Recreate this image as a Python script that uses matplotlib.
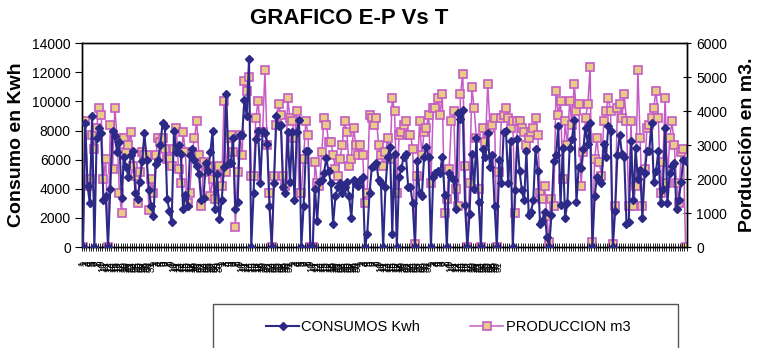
import numpy as np
import matplotlib
matplotlib.use("Agg")
import matplotlib.pyplot as plt
from matplotlib.patches import Rectangle
from matplotlib.lines import Line2D

plt.rcParams['font.family'] = ['Liberation Sans', 'DejaVu Sans']

# dias con etiqueta, el resto de la serie queda sin etiqueta
dias_mes = [31, 30, 31, 30, 31, 31]

consumos_kwh = [
    0, 8500, 4200, 3000, 9000, 0, 7500, 8200, 7800, 3200,
    3500, 0, 4000, 8000, 7600, 6500, 7200, 3400, 6200, 5500,
    4800, 6300, 6600, 3700, 3300, 4500, 5900, 7800, 6000, 3900,
    2800, 2100, 5700, 6000, 7000, 8500, 8300, 3300, 2500, 1700,
    8000, 6500, 7000, 6400, 2600, 3600, 2800, 6300, 6700, 6000,
    5600, 5000, 3200, 3400, 5800, 5200, 6500, 8000, 2600, 5000,
    1900, 3200, 5500, 10500, 5800, 5800, 7500, 2600, 3100, 7700,
    7700, 10100, 9000, 12900, 0, 3700, 7400, 8000, 4400, 8000,
    7800, 7100, 2800, 0, 4400, 9000, 8300, 8400, 4100, 3700,
    7900, 4500, 7900, 3200, 7900, 8700, 0, 2800, 6600, 6600,
    0, 0, 4000, 1800, 4500, 4600, 5100, 6100, 5200, 4400,
    1600, 3500, 4100, 4400, 3700, 4100, 4500, 3500, 2000, 4600,
    4300, 4200, 4600, 4800, 0, 900, 3700, 5500, 5600, 5800,
    4600, 4400, 0, 4100, 6200, 6900, 900, 6400, 0, 4800,
    5400, 6200, 6400, 4100, 4100, 3000, 0, 5900, 3700, 3500,
    6200, 6900, 6200, 0, 4800, 5100, 5200, 5100, 6200, 3600,
    0, 5100, 4800, 4600, 2600, 9200, 8800, 9400, 2900, 0,
    2300, 6400, 4000, 7500, 3100, 0, 6700, 6200, 7800, 5500,
    6300, 2800, 0, 6000, 4400, 7900, 8000, 4400, 7300, 0,
    3900, 7400, 5200, 3900, 3200, 6600, 2200, 2400, 3200, 6700,
    5200, 1600, 1800, 2400, 700, 0, 2200, 5900, 6300, 8300,
    2900, 6800, 2000, 3000, 6800, 7400, 8700, 3100, 5500, 5400,
    6700, 8200, 7100, 8500, 0, 3500, 4800, 4600, 4400, 7100,
    6200, 8300, 8000, 0, 2500, 6300, 7700, 6400, 6200, 1600,
    1700, 7300, 3200, 6800, 4700, 5300, 2000, 5100, 6600, 6600,
    8500, 4500, 5200, 6600, 3000, 4000, 8200, 3000, 5100, 5600,
    5800, 2600, 3200, 4500, 6000, 5900,
]

produccion_m3 = [
    0, 3700, 1800, 2000, 3300, 2900, 3500, 4100, 3900, 2000,
    2600, 0, 3600, 2300, 4100, 3200, 1600, 1000, 3200, 2800,
    3000, 3400, 2400, 2100, 1300, 2200, 2800, 2700, 2700, 1100,
    2000, 1600, 2700, 3200, 3100, 3200, 2900, 2600, 2600, 2400,
    2900, 3500, 2300, 1900, 3400, 2800, 1300, 1600, 2800, 3200,
    3700, 2700, 1200, 2500, 2200, 2400, 1500, 2000, 1400, 2200,
    2400, 1800, 4300, 2200, 3200, 3300, 2800, 600, 2200, 3300,
    2700, 4900, 4600, 5000, 2100, 2100, 3800, 4300, 3400, 3400,
    5200, 3000, 1600, 0, 2100, 3600, 4200, 3900, 2100, 1800,
    4400, 3800, 3700, 3200, 4000, 1600, 1600, 2600, 3700, 3300,
    0, 0, 2500, 1900, 1800, 2800, 3800, 3600, 3100, 3100,
    2700, 2300, 2100, 2600, 3000, 3700, 3400, 2400, 2600, 3500,
    3000, 2700, 3000, 2700, 1300, 1600, 3900, 3800, 3600, 3800,
    3000, 2700, 2400, 2800, 3200, 2600, 4400, 4000, 1600, 3300,
    3400, 3600, 3700, 3300, 3300, 2900, 100, 2100, 3700, 2700,
    3400, 3500, 3900, 1900, 4100, 4100, 4400, 3900, 4500, 1000,
    1400, 2300, 3700, 4000, 1700, 1200, 4500, 5100, 2400, 0,
    1900, 4700, 4100, 3200, 1700, 0, 3500, 3100, 4800, 3500,
    3600, 3800, 0, 2200, 3800, 3900, 4100, 3800, 3500, 3700,
    1000, 3700, 3700, 3500, 3400, 3000, 3200, 3400, 3500, 3800,
    3300, 1600, 1400, 1800, 900, 150, 1400, 1200, 4600, 3900,
    4300, 2000, 3700, 3000, 4300, 3600, 4800, 4000, 4200, 1800,
    2800, 3800, 4200, 5300, 150, 2600, 3200, 2500, 2100, 3700,
    4000, 4400, 4000, 100, 1200, 4100, 4200, 3800, 4500, 3700,
    1200, 3700, 1200, 1800, 5200, 3200, 1200, 2300, 3500, 3600,
    3800, 4100, 4600, 3800, 1600, 2500, 4400, 1900, 3200, 3700,
    3000, 1900, 1300, 2800, 2900, 0,
]

azul = '#2D2A87'
rosa = '#C45CC4'
relleno = '#E8CB84'

etiquetas = [str(d) for n in dias_mes for d in range(1, n + 1)]

fig = plt.figure(figsize=(7.58, 3.48), dpi=100)
ax = fig.add_axes([0.108, 0.290, 0.798, 0.586])
ax2 = ax.twinx()
ax.set_zorder(ax2.get_zorder() + 1)
ax.patch.set_visible(False)

x1 = np.arange(len(consumos_kwh))
x2 = np.arange(len(produccion_m3))
n = max(len(x1), len(x2))

ax2.plot(x2, produccion_m3, color=rosa, lw=1.1, marker='s', ms=5.2,
         mfc=relleno, mec=rosa, mew=1.2, zorder=2)
ax.plot(x1, consumos_kwh, color=azul, lw=1.5, marker='D', ms=4.2,
        mfc=azul, mec=azul, zorder=3)

ax.set_xlim(-0.5, n - 0.5)
ax.set_ylim(0, 14000)
ax2.set_ylim(0, 6000)
ax.set_yticks(range(0, 14001, 2000))
ax2.set_yticks(range(0, 6001, 1000))

ax.set_xticks(np.arange(len(etiquetas)))
ax.set_xticklabels(etiquetas, rotation=90, fontsize=7, va='top')
ax.set_xticks(np.arange(-0.5, n, 1), minor=True)
ax.tick_params(axis='x', which='major', length=0, pad=10)
ax.tick_params(axis='x', which='minor', length=6, width=0.6,
               direction='inout', color='black')
ax.tick_params(axis='y', length=5, direction='out', labelsize=10, pad=3)
ax2.tick_params(axis='y', length=6, direction='inout', labelsize=10, pad=4)
ax2.tick_params(axis='x', length=0)

for a in (ax, ax2):
    for s in a.spines.values():
        s.set_color('black')
        s.set_linewidth(1.0)

fig.text(250 / 758, 0.948, 'GRAFICO E-P Vs T', ha='left', va='center',
         fontsize=16, fontweight='bold')
fig.text(0.022, 0.583, 'Consumo en Kwh', rotation=90, ha='center',
         va='center', fontsize=14, fontweight='bold')
fig.text(0.986, 0.583, 'Porducción en m3.', rotation=90, ha='center',
         va='center', fontsize=14, fontweight='bold')

# recuadro de la leyenda (se sale por abajo)
fig.patches.append(Rectangle((213 / 758, -0.05), (678 - 213) / 758,
                             0.05 + (348 - 304) / 348,
                             transform=fig.transFigure, fill=False,
                             edgecolor='#555555', lw=1.0))

h1 = Line2D([], [], color=azul, lw=1.5, marker='D', ms=4.2, mfc=azul, mec=azul)
h2 = Line2D([], [], color=rosa, lw=1.1, marker='s', ms=5.2, mfc=relleno,
            mec=rosa, mew=1.2)
fig.legend([h1, h2], ['CONSUMOS Kwh', 'PRODUCCION m3'], ncol=2,
           loc='center', bbox_to_anchor=(448 / 758, 1 - 327 / 348),
           frameon=False, fontsize=10.5, handlelength=2.3,
           handletextpad=0.15, columnspacing=3.4)

fig.savefig('out.png', dpi=100)
